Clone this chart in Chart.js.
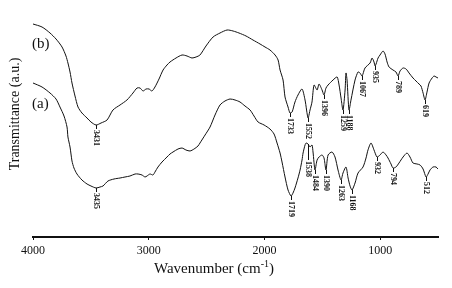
<!DOCTYPE html>
<html>
<head>
<meta charset="utf-8">
<script src="https://cdn.jsdelivr.net/npm/chart.js@4.4.0/dist/chart.umd.min.js"></script>
<style>
  html, body { margin: 0; padding: 0; background: #fff; }
  #wrap { width: 452px; height: 288px; position: relative; }
</style>
</head>
<body>
<div id="wrap"><canvas id="c" width="452" height="288"></canvas></div>
<script>
// Wavenumber (cm-1) and transmittance (a.u.)
const wavenumberB = [4000,3922,3853,3801,3749,3715,3698,3680,3663,3637,3611,3577,3533,3499,3455,3412,3360,3309,3248,3188,3136,3101,3075,3049,3023,2997,2972,2946,2911,2876,2842,2816,2764,2712,2669,2626,2591,2557,2505,2444,2384,2323,2271,2220,2159,2099,2038,1995,1952,1908,1882,1865,1839,1822,1796,1779,1761,1736,1710,1675,1649,1623,1606,1589,1571,1545,1528,1502,1485,1468,1450,1407,1372,1355,1338,1321,1303,1295,1286,1269,1252,1217,1191,1174,1156,1131,1087,1070,1053,1044,1035,1018,1001,975,958,940,923,889,863,845,828,802,776,750,716,690,664,647,629,612,595,577,551,534,517,500];
const transmittanceB = [213,210,204,198,190,181,174,165,154,141,130,124,119,115,112,114,117,127,132,137,144,149,149,146,148,148,146,150,158,167,172,175,179,182,181,179,180,182,191,200,204,207,206,204,201,197,193,190,187,182,177,167,157,140,130,124,125,135,142,148,137,119,127,135,152,147,153,147,142,149,152,157,160,152,139,127,147,164,157,127,137,157,165,164,161,169,174,179,175,171,173,179,182,186,183,175,170,167,165,161,166,169,168,164,159,156,153,151,144,137,145,154,159,161,160,159];

const wavenumberA = [4000,3922,3853,3801,3767,3732,3706,3698,3680,3663,3646,3620,3577,3533,3499,3455,3421,3395,3352,3300,3248,3205,3162,3118,3092,3058,3032,3015,2989,2963,2946,2920,2885,2842,2816,2790,2747,2712,2678,2643,2608,2574,2557,2513,2470,2427,2384,2341,2297,2254,2211,2168,2124,2090,2055,2003,1952,1917,1891,1865,1848,1822,1796,1770,1753,1736,1710,1692,1675,1666,1649,1640,1623,1606,1589,1580,1563,1545,1528,1502,1485,1468,1450,1416,1390,1364,1338,1321,1295,1277,1260,1243,1217,1191,1148,1122,1105,1079,1053,1027,1001,975,949,932,906,889,863,837,802,768,742,716,681,655,629,603,586,569,543,517,500];
const transmittanceA = [154,150,144,138,130,121,110,100,90,76,69,63,57,53,51,49,50,51,56,58,59,60,61,63,63,62,60,61,63,62,65,70,75,80,83,85,88,89,87,86,88,91,94,102,110,122,132,136,138,137,135,131,127,121,115,112,108,103,94,84,75,60,47,41,44,49,59,67,77,84,92,94,93,90,92,85,67,77,80,82,79,67,82,85,80,67,57,64,70,59,51,47,54,64,70,79,87,94,87,80,82,85,82,79,73,69,70,74,80,84,80,74,73,72,68,60,63,67,70,70,68];

// Peak annotations: text and the wavenumber of the marked point on the curve
const peakTextB = ['3431','1733','1552','1396','1259','1188','1067','935','789','619'];
const peakAtB   = [3455,1779,1623,1485,1321,1269,1156,1044,845,612];
const peakTextA = ['3435','1719','1538','1484','1390','1263','1168','932','794','512'];
const peakAtA   = [3455,1770,1623,1563,1468,1338,1243,1027,889,603];

const seriesNames = ['(b)', '(a)'];
const xTickValues = [4000, 3000, 2000, 1000];

const toXY = (xs, ys) => xs.map((x, i) => ({x: x, y: ys[i]}));

const peakLabelPlugin = {
  id: 'peakLabels',
  afterDatasetsDraw(chart) {
    const ctx = chart.ctx;
    const sets = [
      {ds: 0, text: peakTextB, at: peakAtB, extra: {}},
      {ds: 1, text: peakTextA, at: peakAtA, extra: {'1538': 12}}
    ];
    ctx.save();
    ctx.strokeStyle = '#111';
    ctx.fillStyle = '#111';
    ctx.lineWidth = 1;
    ctx.font = 'bold 8px "Liberation Serif", serif';
    sets.forEach(s => {
      const meta = chart.getDatasetMeta(s.ds);
      const data = chart.data.datasets[s.ds].data;
      s.text.forEach((t, k) => {
        let best = 0, bd = Infinity;
        data.forEach((p, i) => { const d = Math.abs(p.x - s.at[k]); if (d < bd) { bd = d; best = i; } });
        const el = meta.data[best];
        const px = Math.round(el.x) + 0.5, py = el.y;
        const tick = 4 + (s.extra[t] || 0);
        ctx.beginPath();
        ctx.moveTo(px, py);
        ctx.lineTo(px, py + tick);
        ctx.stroke();
        ctx.save();
        ctx.translate(px, py + tick + 1);
        ctx.rotate(Math.PI / 2);
        ctx.textAlign = 'left';
        ctx.textBaseline = 'middle';
        ctx.fillText(t, 0, 0);
        ctx.restore();
      });
    });
    ctx.restore();
  }
};

const textPlugin = {
  id: 'texts',
  afterDraw(chart) {
    const ctx = chart.ctx;
    ctx.save();
    ctx.fillStyle = '#111';
    // series names
    ctx.font = '15px "Liberation Serif", serif';
    ctx.textAlign = 'left';
    ctx.textBaseline = 'middle';
    ctx.fillText(seriesNames[0], 32, 44);
    ctx.fillText(seriesNames[1], 32, 104);
    // y title
    ctx.save();
    ctx.translate(15, 114);
    ctx.rotate(-Math.PI / 2);
    ctx.textAlign = 'center';
    ctx.font = '14px "Liberation Serif", serif';
    ctx.fillText('Transmittance (a.u.)', 0, 0);
    ctx.restore();
    // x title with superscript
    ctx.font = '15px "Liberation Serif", serif';
    const p1 = 'Wavenumber (cm', p3 = ')';
    ctx.textAlign = 'left';
    const sup = '-1';
    const w1 = ctx.measureText(p1).width;
    ctx.font = '10px "Liberation Serif", serif';
    const w2 = ctx.measureText(sup).width;
    ctx.font = '15px "Liberation Serif", serif';
    const w3 = ctx.measureText(p3).width;
    const total = w1 + w2 + w3;
    let x0 = 214 - total / 2;
    ctx.fillText(p1, x0, 269);
    ctx.font = '10px "Liberation Serif", serif';
    ctx.fillText(sup, x0 + w1, 264);
    ctx.font = '15px "Liberation Serif", serif';
    ctx.fillText(p3, x0 + w1 + w2, 269);
    ctx.restore();
  }
};

new Chart(document.getElementById('c'), {
  type: 'line',
  data: {
    datasets: [
      { label: seriesNames[0], data: toXY(wavenumberB, transmittanceB), borderColor: '#111', borderWidth: 1, pointRadius: 0, tension: 0.25, fill: false },
      { label: seriesNames[1], data: toXY(wavenumberA, transmittanceA), borderColor: '#111', borderWidth: 1, pointRadius: 0, tension: 0.25, fill: false }
    ]
  },
  options: {
    responsive: false,
    animation: false,
    devicePixelRatio: 1,
    layout: { padding: { left: 33, right: 14, top: 10, bottom: 0 } },
    plugins: { legend: { display: false }, tooltip: { enabled: false } },
    scales: {
      x: {
        type: 'linear',
        reverse: true,
        min: 500,
        max: 4000,
        afterBuildTicks: s => { s.ticks = xTickValues.map(v => ({value: v})); },
        afterFit: s => { s.height = 51; },
        grid: { display: true, drawOnChartArea: false, drawTicks: true, tickLength: 3, color: '#111' },
        border: { display: true, color: '#111', width: 2 },
        ticks: { color: '#111', padding: 4, maxRotation: 0, callback: v => String(v), font: { family: '"Liberation Serif", serif', size: 12 } }
      },
      y: {
        display: false,
        min: 0,
        max: 227
      }
    }
  },
  plugins: [peakLabelPlugin, textPlugin]
});
</script>
</body>
</html>
